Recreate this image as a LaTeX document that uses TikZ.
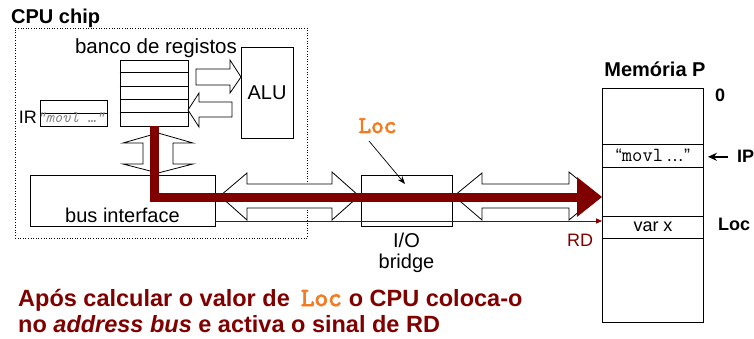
\documentclass[tikz,border=0pt]{standalone}
\usepackage{fontspec}
\setmainfont{Liberation Sans}
\newfontfamily\locfont{lmmono10-regular.otf}[FakeBold=3]
\usetikzlibrary{arrows.meta}
\definecolor{busred}{HTML}{800000}
\definecolor{locorange}{HTML}{F47B20}
\newcommand{\fsz}[1]{\fontsize{#1}{#1}\selectfont}
\begin{document}
\begin{tikzpicture}[
  x=1pt, y=-1pt,
  box/.style={draw, line width=0.8pt, inner sep=0pt},
  txt/.style={inner sep=0pt, font=\fsz{20}},
  blockarrow/.style={draw, fill=white, line width=0.8pt, line join=miter}
]
\useasboundingbox (0,0) rectangle (754,339);

% CPU chip
\node[txt, anchor=base west, font=\fsz{20}\bfseries] (cpu) at (11,24) {CPU chip};
\node[draw, dotted, line width=0.6pt, minimum width=292pt, minimum height=210pt] (chip) at (161,133) {};
\node[txt, anchor=base, font=\fsz{20.5}] (banktxt) at (156,54) {banco de registos};
\node[box, minimum width=68pt, minimum height=66pt] (bank) at (154,93) {};
\foreach \r in {1,...,4}
  \draw[line width=0.8pt] (bank.north west) ++(0,13.2*\r) -- ++(68,0);
\node[box, minimum width=52pt, minimum height=91pt, font=\fsz{20}] (alu) at (267,92.5) {ALU};
\node[box, minimum width=67pt, minimum height=26pt] (ir) at (73.5,113) {};
\draw[line width=0.8pt] (ir.west) -- (ir.east);
\node[txt, anchor=base east, font=\fsz{18}] (irtxt) at (37,124) {IR};
\node[txt, anchor=base west, text=gray, font=\fsz{16}\ttfamily\itshape] (irval) at (37,123) {“movl …”};
\node[box, minimum width=185pt, minimum height=51pt] (busif) at (122.5,200.5) {};
\node[txt, anchor=base] (busiftxt) at (122.5,222) {bus interface};

% I/O bridge
\node[box, minimum width=91pt, minimum height=51pt] (bridge) at (406.5,200.5) {};
\node[txt, anchor=base] (iotxt) at (406.5,247) {I/O};
\node[txt, anchor=base] (bridgetxt) at (406.5,268) {bridge};

% Memoria
\node[txt, anchor=base, font=\fsz{20}\bfseries] (memtxt) at (655,77) {Memória P};
\node[box, minimum width=101pt, minimum height=234pt] (mem) at (653,205) {};
\node[box, minimum width=101pt, minimum height=23pt, font=\fsz{18}] (instr) at (653,155.5) {“{\fsz{20}\ttfamily movl}\,…”};
\node[box, minimum width=101pt, minimum height=22pt, font=\fsz{18}] (varx) at (653,227) {var x};
\node[txt, anchor=base west, font=\fsz{18}\bfseries] (zero) at (715,102) {0};
\node[txt, anchor=base west, font=\fsz{18}\bfseries] (ip) at (737,163) {IP};
\node[txt, anchor=base west, font=\fsz{18}\bfseries] (locmem) at (718,230) {Loc};
\draw[line width=1.4pt, -{Stealth[length=9pt,width=8pt]}, shorten <=9pt, shorten >=4pt] (ip.west) -- (mem.east |- ip.west);

% setas largas
\draw[blockarrow] (196,69) -- (230,69) -- (230,60) -- (241,77) -- (230,93) -- (230,85) -- (196,85) -- cycle;
\draw[blockarrow] (232,102) -- (199,102) -- (199,93) -- (188,110) -- (199,127) -- (199,117) -- (232,117) -- cycle;
\draw[blockarrow] (158,133) -- (193,143) -- (173,143) -- (173,164) -- (193,164) -- (158,173)
  -- (123,164) -- (143,164) -- (143,143) -- (123,143) -- cycle;
\draw[blockarrow] (220,196) -- (247,173) -- (247,184) -- (332,184) -- (332,172) -- (359,196)
  -- (332,220) -- (332,208) -- (247,208) -- (247,220) -- cycle;
\draw[blockarrow] (454,196) -- (482,173) -- (482,184) -- (569,184) -- (569,172) -- (598,196)
  -- (569,220) -- (569,208) -- (482,208) -- (482,220) -- cycle;

% address bus
\coordinate (busline) at (0,197);
\coordinate (rdline) at (0,221);
\draw[busred, line width=9pt, -{Triangle[length=25pt,width=38pt]}] (bank.south) |- (mem.west |- busline);
\draw[busred, line width=0.8pt, -{Triangle[length=6pt,width=5pt]}] (busif.east |- rdline) -- (mem.west |- rdline);
\node[txt, anchor=base, text=busred, font=\fsz{18}] (rd) at (580,246) {RD};

% Loc
\node[txt, anchor=base, text=locorange, font=\fsz{24}\locfont] (loc) at (377.5,133) {Loc};
\coordinate (locfrom) at (369,141);
\coordinate (locto) at (405,184);
\draw[line width=0.7pt, -{Stealth[length=8pt,width=6pt]}] (locfrom) -- (locto);

% nota
\node[txt, anchor=base west, text=busred, font=\fsz{23.5}\bfseries] (note1) at (18,306)
  {Após calcular o valor de\hspace{11pt}\textcolor{locorange}{\fsz{26}\locfont Loc}\hspace{7pt}o CPU coloca-o};
\node[txt, anchor=base west, text=busred, font=\fsz{23.5}\bfseries] (note2) at (18,332)
  {no \textit{address bus} e activa o sinal de RD};
\end{tikzpicture}
\end{document}
